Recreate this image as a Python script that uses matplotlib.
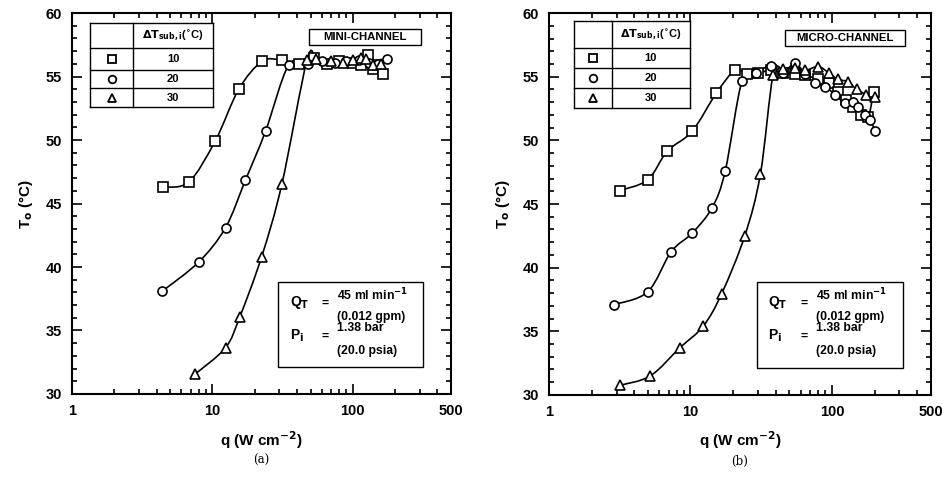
import numpy as np
import matplotlib
matplotlib.use("Agg")
import matplotlib.pyplot as plt
from matplotlib.path import Path
from matplotlib.patches import PathPatch, Rectangle
from matplotlib.ticker import FixedLocator, NullFormatter

plt.rcParams['font.family'] = ['Liberation Sans', 'DejaVu Sans']
plt.rcParams['font.weight'] = 'bold'

# ------------------------------------------------------------
# Data: outlet temperature vs heat flux
# ------------------------------------------------------------

# (a) mini-channel
mini_q_10 = [4.45, 6.8, 10.5, 15.4, 22.6, 31.2, 41.4, 52.9, 65, 80, 100, 115, 129, 140, 150, 165]
mini_T_10 = [46.3, 46.7, 49.95, 54.0, 56.2, 56.3, 56.0, 56.45, 56.0, 56.2, 56.1, 55.9, 56.7, 55.6, 55.9, 55.2]
mini_q_20 = [4.4, 8.0, 12.4, 17.2, 23.9, 34.9, 48.2, 60, 75, 90, 110, 130, 150, 174]
mini_T_20 = [38.1, 40.4, 43.1, 46.85, 50.7, 55.9, 55.95, 56.2, 56.1, 56.2, 56.3, 56.1, 56.0, 56.4]
mini_q_30 = [7.5, 12.4, 15.7, 22.4, 31.2, 47.2, 55, 70, 85, 100, 115, 125, 140, 160]
mini_T_30 = [31.55, 33.65, 36.1, 40.8, 46.5, 56.3, 56.4, 56.2, 56.1, 56.3, 56.5, 56.4, 55.9, 56.0]

# (b) micro-channel
micro_q_10 = [3.15, 4.98, 6.85, 10.25, 15.2, 20.6, 25.1, 30, 37, 45, 55, 65, 80, 95, 110, 125, 140, 160, 180, 197]
micro_T_10 = [46.05, 46.9, 49.15, 50.7, 53.7, 55.5, 55.2, 55.3, 55.5, 55.3, 55.2, 55.1, 54.8, 54.5, 53.8, 53.2, 52.6, 52.0, 51.8, 53.8]
micro_q_20 = [2.89, 4.98, 7.3, 10.25, 14.2, 17.6, 23.1, 29.1, 36.8, 45, 54.5, 65, 75.7, 90, 105, 124, 140, 154, 170, 185, 202]
micro_T_20 = [37.1, 38.1, 41.25, 42.7, 44.7, 47.6, 54.65, 55.3, 55.85, 55.3, 56.05, 55.2, 54.5, 54.2, 53.6, 52.9, 53.0, 52.6, 52.0, 51.6, 50.75]
micro_q_30 = [3.15, 5.2, 8.4, 12.3, 16.6, 24.2, 31.2, 38.3, 45, 55, 65, 80, 95, 110, 130, 150, 175, 200]
micro_T_30 = [30.75, 31.5, 33.7, 35.4, 37.95, 42.5, 47.35, 55.1, 55.6, 55.7, 55.5, 55.8, 55.3, 54.8, 54.6, 54.0, 53.6, 53.4]

subcooling = ['10', '20', '30']
markers = ['s', 'o', '^']


def smooth_path(q, T):
    # Catmull-Rom curve through the points, built in log(q) space
    x = np.log10(q)
    y = np.asarray(T, dtype=float)
    pts = np.column_stack([x, y])
    verts = [pts[0]]
    codes = [Path.MOVETO]
    n = len(pts)
    for i in range(n - 1):
        p0 = pts[i - 1] if i > 0 else pts[i]
        p1 = pts[i]
        p2 = pts[i + 1]
        p3 = pts[i + 2] if i + 2 < n else pts[i + 1]
        c1 = p1 + (p2 - p0) / 6.0
        c2 = p2 - (p3 - p1) / 6.0
        verts += [c1, c2, p2]
        codes += [Path.CURVE4] * 3
    verts = np.array(verts)
    verts[:, 0] = 10 ** verts[:, 0]
    return Path(verts, codes)


def draw_panel(ax, series, title, tbl, tag_box, info_box, caption):
    for (q, T), m in zip(series, markers):
        ax.add_patch(PathPatch(smooth_path(q, T), fc='none', ec='black', lw=1.2, zorder=2))
        ax.plot(q, T, ls='none', marker=m, ms=6.5, mfc='white', mec='black', mew=1.2, zorder=3)

    ax.set_xscale('log')
    ax.set_xlim(1, 500)
    ax.set_ylim(30, 60)
    ax.xaxis.set_major_locator(FixedLocator([1, 10, 100, 500]))
    ax.xaxis.set_major_formatter(plt.FuncFormatter(lambda v, p: '%d' % v))
    ax.xaxis.set_minor_locator(FixedLocator([2, 3, 4, 5, 6, 7, 8, 9, 20, 30, 40, 50, 60, 70, 80, 90,
                                             200, 300, 400]))
    ax.xaxis.set_minor_formatter(NullFormatter())
    ax.set_yticks(np.arange(30, 61, 5))
    ax.set_yticks(np.arange(30, 61, 1), minor=True)
    ax.tick_params(which='both', direction='in', top=True, right=True, width=1.2)
    ax.tick_params(which='major', length=7, labelsize=10.5, pad=7)
    ax.tick_params(which='minor', length=3.5)
    for lab in ax.get_xticklabels() + ax.get_yticklabels():
        lab.set_fontweight('bold')
    for s in ax.spines.values():
        s.set_linewidth(1.5)

    ax.set_xlabel('q (W cm$^{\\mathbf{-2}}$)', fontsize=11, fontweight='bold', labelpad=8)
    ax.set_ylabel('T$_\\mathbf{o}$ (°C)', fontsize=11, fontweight='bold', labelpad=8)
    ax.text(0.5, -0.175, caption, transform=ax.transAxes, ha='center', va='center',
            fontsize=8.5, family='DejaVu Serif', fontweight='normal')

    # legend table in the top-left corner
    x0, xc, x1, ys = tbl
    tr = ax.transAxes
    for y in ys:
        ax.plot([x0, x1], [y, y], color='black', lw=1.0, transform=tr, zorder=4)
    for x in (x0, xc, x1):
        ax.plot([x, x], [ys[0], ys[-1]], color='black', lw=1.0, transform=tr, zorder=4)
    ax.add_patch(Rectangle((x0, ys[-1]), x1 - x0, ys[0] - ys[-1], transform=tr,
                           fc='white', ec='none', zorder=3.5))
    ax.text((xc + x1) / 2, (ys[0] + ys[1]) / 2, '$\\mathbf{\\Delta T_{sub,i}}$($^{\\circ}$C)',
            transform=tr, ha='center', va='center', fontsize=8, zorder=5)
    for k in range(3):
        yc = (ys[k + 1] + ys[k + 2]) / 2
        ax.plot((x0 + xc) / 2, yc, marker=markers[k], ms=5.5, mfc='white', mec='black', mew=1.3,
                transform=tr, zorder=5, clip_on=False)
        ax.text((xc + x1) / 2, yc, subcooling[k], transform=tr, ha='center', va='center',
                fontsize=8, zorder=5)

    # channel tag
    bx0, by0, bx1, by1 = tag_box
    ax.add_patch(Rectangle((bx0, by0), bx1 - bx0, by1 - by0, transform=tr, fc='white',
                           ec='black', lw=1.0, zorder=4))
    ax.text((bx0 + bx1) / 2, (by0 + by1) / 2, title, transform=tr, ha='center', va='center',
            fontsize=8.2, zorder=5)

    # operating conditions
    ix0, iy0, ix1, iy1 = info_box
    ax.add_patch(Rectangle((ix0, iy0), ix1 - ix0, iy1 - iy0, transform=tr, fc='white',
                           ec='black', lw=1.0, zorder=4))
    kw = dict(transform=tr, va='center', fontsize=8.8, fontweight='bold', zorder=5)
    ax.text(ix0 + 0.03, iy1 - 0.055, 'Q$_\\mathbf{T}$', fontsize=10, transform=tr,
            va='center', zorder=5)
    ax.text(ix0 + 0.115, iy1 - 0.058, '=', **kw)
    ax.text(ix0 + 0.155, iy1 - 0.035, '45 ml min$^\\mathbf{-1}$', **kw)
    ax.text(ix0 + 0.155, iy1 - 0.093, '(0.012 gpm)', **kw)
    ax.text(ix0 + 0.03, iy1 - 0.142, 'P$_\\mathbf{i}$', fontsize=10, transform=tr,
            va='center', zorder=5)
    ax.text(ix0 + 0.115, iy1 - 0.145, '=', **kw)
    ax.text(ix0 + 0.155, iy1 - 0.122, '1.38 bar', **kw)
    ax.text(ix0 + 0.155, iy1 - 0.182, '(20.0 psia)', **kw)


fig = plt.figure(figsize=(9.45, 4.84), dpi=100)
ax_a = fig.add_axes([0.0762, 0.186, 0.401, 0.787])
ax_b = fig.add_axes([0.581, 0.184, 0.404, 0.789])

draw_panel(ax_a,
           [(mini_q_10, mini_T_10), (mini_q_20, mini_T_20), (mini_q_30, mini_T_30)],
           'MINI-CHANNEL',
           (0.0475, 0.161, 0.372, [0.974, 0.908, 0.850, 0.803, 0.753]),
           (0.625, 0.916, 0.921, 0.958),
           (0.544, 0.071, 0.926, 0.294),
           '(a)')
draw_panel(ax_b,
           [(micro_q_10, micro_T_10), (micro_q_20, micro_T_20), (micro_q_30, micro_T_30)],
           'MICRO-CHANNEL',
           (0.065, 0.164, 0.369, [0.979, 0.909, 0.856, 0.803, 0.752]),
           (0.618, 0.914, 0.933, 0.956),
           (0.544, 0.070, 0.927, 0.297),
           '(b)')

fig.savefig('out.png', dpi=100)
